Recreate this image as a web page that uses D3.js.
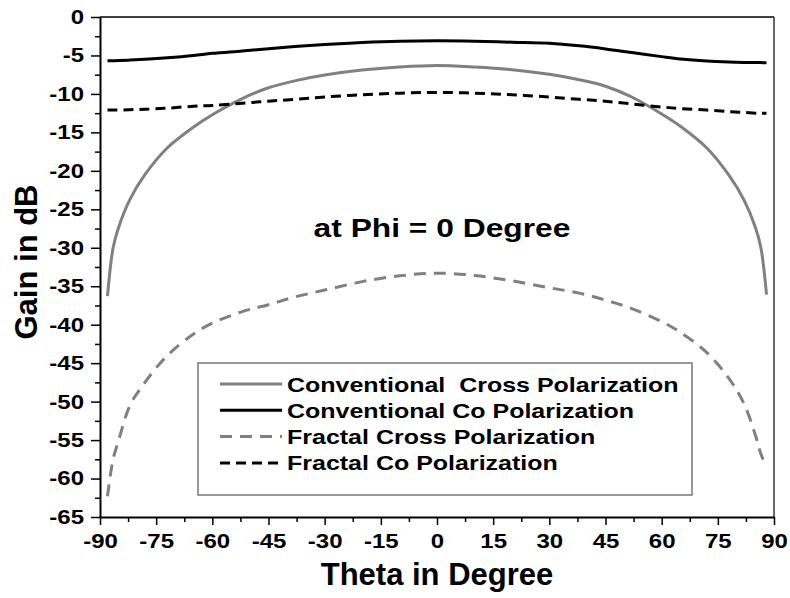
<!DOCTYPE html>
<html>
<head>
<meta charset="utf-8">
<script src="https://cdn.jsdelivr.net/npm/d3@7"></script>
<style>
  body { margin: 0; background: #fff; }
  text { font-family: "Liberation Sans", Arial, sans-serif; font-weight: bold; }
</style>
</head>
<body>
<script>
// theta values (degrees) shared by all four curves
var theta = [-88,-86.5,-85,-82,-78,-72,-65,-60,-52,-45,-38,-30,-20,-10,0,10,20,30,38,45,52,60,65,72,78,82,85,86.5,88];

var convCross = [-36.3,-30.0,-27.3,-23.7,-20.5,-17.0,-14.3,-12.7,-10.6,-9.2,-8.3,-7.55,-6.9,-6.5,-6.3,-6.5,-6.85,-7.45,-8.15,-9.0,-10.4,-12.6,-14.2,-17.0,-20.6,-23.8,-27.3,-30.0,-36.1];
var convCo = [-5.7,-5.68,-5.66,-5.6,-5.5,-5.3,-5.0,-4.72,-4.42,-4.13,-3.85,-3.58,-3.32,-3.15,-3.1,-3.15,-3.28,-3.42,-3.75,-4.15,-4.62,-5.15,-5.45,-5.72,-5.85,-5.9,-5.92,-5.93,-5.95];
var fracCross = [-62.3,-57.5,-55,-50.5,-47.5,-44.0,-41.2,-39.8,-38.3,-37.4,-36.4,-35.5,-34.4,-33.65,-33.3,-33.6,-34.3,-35.2,-35.9,-36.8,-37.9,-39.6,-41.0,-43.6,-47.0,-50.3,-54.3,-56.8,-58.5];
var fracCo = [-12.1,-12.1,-12.1,-12.05,-12.0,-11.85,-11.6,-11.5,-11.2,-10.95,-10.7,-10.4,-10.1,-9.9,-9.8,-9.9,-10.1,-10.4,-10.7,-10.95,-11.3,-11.7,-11.9,-12.1,-12.3,-12.4,-12.5,-12.5,-12.5];

var xTicks = d3.range(-90, 91, 15);
var yTicks = d3.range(-65, 1, 5);

var seriesNames = ["Conventional  Cross Polarization", "Conventional Co Polarization", "Fractal Cross Polarization", "Fractal Co Polarization"];

var margin = {top: 17, right: 16, bottom: 81, left: 100},
    width = 790,
    height = 598;

var svg = d3.select("body")
    .append("svg")
    .attr("width", width)
    .attr("height", height);

var xscale = d3.scaleLinear()
    .domain([-90, 90])
    .range([margin.left, width - margin.right]);

var yscale = d3.scaleLinear()
    .domain([-65, 0])
    .range([height - margin.bottom, margin.top]);

// the original's bold type is wider than Liberation Sans, so stretch it a bit
function stretch(sel, k) {
    sel.each(function() {
        var w = this.getComputedTextLength();
        d3.select(this)
            .attr("textLength", w * k)
            .attr("lengthAdjust", "spacingAndGlyphs");
    });
}

// frame top + right
svg.append("line")
    .attr("x1", xscale(-90)).attr("x2", xscale(90))
    .attr("y1", yscale(0)).attr("y2", yscale(0))
    .attr("stroke", "#000").attr("stroke-width", 1.5);
svg.append("line")
    .attr("x1", xscale(90)).attr("x2", xscale(90))
    .attr("y1", yscale(0)).attr("y2", yscale(-65))
    .attr("stroke", "#333").attr("stroke-width", 1.5);

// minor ticks
svg.append("g")
    .attr("transform", `translate(0,${yscale(-65)})`)
    .call(d3.axisBottom(xscale).tickValues(d3.range(-82.5, 90, 15)).tickSize(5).tickFormat(""))
    .call(g => g.select(".domain").remove())
    .selectAll("line").attr("stroke-width", 1.5);
svg.append("g")
    .attr("transform", `translate(${xscale(-90)},0)`)
    .call(d3.axisLeft(yscale).tickValues(d3.range(-62.5, 0, 5)).tickSize(5).tickFormat(""))
    .call(g => g.select(".domain").remove())
    .selectAll("line").attr("stroke-width", 1.5);

var fmt = d => String(d);

// x-axis
var xg = svg.append("g")
    .attr("transform", `translate(0,${yscale(-65)})`)
    .call(d3.axisBottom(xscale).tickValues(xTicks).tickFormat(fmt).tickSizeInner(8).tickSizeOuter(0).tickPadding(9));
xg.select(".domain").attr("stroke-width", 2);
xg.selectAll("line").attr("stroke-width", 1.5);
xg.selectAll("text").attr("font-size", 20).attr("fill", "#000").call(stretch, 1.2);

// y-axis
var yg = svg.append("g")
    .attr("transform", `translate(${xscale(-90)},0)`)
    .call(d3.axisLeft(yscale).tickValues(yTicks).tickFormat(fmt).tickSizeInner(9).tickSizeOuter(0).tickPadding(7));
yg.select(".domain").attr("stroke-width", 2);
yg.selectAll("line").attr("stroke-width", 1.5);
yg.selectAll("text").attr("font-size", 20).attr("fill", "#000").call(stretch, 1.2);

// axis titles
svg.append("text")
    .attr("x", (xscale(-90) + xscale(90)) / 2)
    .attr("y", 585)
    .attr("text-anchor", "middle")
    .attr("font-size", 31)
    .text("Theta in Degree");

svg.append("text")
    .attr("transform", "translate(37,262) rotate(-90)")
    .attr("text-anchor", "middle")
    .attr("font-size", 31)
    .text("Gain in dB");

svg.append("text")
    .attr("x", 442)
    .attr("y", 237)
    .attr("text-anchor", "middle")
    .attr("font-size", 25)
    .text("at Phi = 0 Degree")
    .call(stretch, 1.27);

var line = d3.line()
    .x((d, i) => xscale(theta[i]))
    .y(d => yscale(d))
    .curve(d3.curveCatmullRom.alpha(0.5));

var styles = [
    {data: convCross, color: "#808080", dash: null},
    {data: convCo, color: "#000", dash: null},
    {data: fracCross, color: "#808080", dash: "12,8"},
    {data: fracCo, color: "#000", dash: "10,6"}
];

styles.forEach(function(s) {
    svg.append("path")
        .datum(s.data)
        .attr("fill", "none")
        .attr("stroke", s.color)
        .attr("stroke-width", 3)
        .attr("stroke-dasharray", s.dash)
        .attr("d", line);
});

// legend
var legend = svg.append("g");
legend.append("rect")
    .attr("x", 198).attr("y", 363)
    .attr("width", 494).attr("height", 132)
    .attr("fill", "#fff")
    .attr("stroke", "#777")
    .attr("stroke-width", 1.5);

styles.forEach(function(s, i) {
    var ly = 384 + i * 26.3;
    legend.append("line")
        .attr("x1", 220).attr("x2", 282)
        .attr("y1", ly).attr("y2", ly)
        .attr("stroke", s.color)
        .attr("stroke-width", 3)
        .attr("stroke-dasharray", s.dash);
    legend.append("text")
        .attr("x", 287)
        .attr("y", ly + 7.5)
        .attr("font-size", 21)
        .style("white-space", "pre")
        .text(seriesNames[i])
        .call(stretch, 1.19);
});
</script>
</body>
</html>
